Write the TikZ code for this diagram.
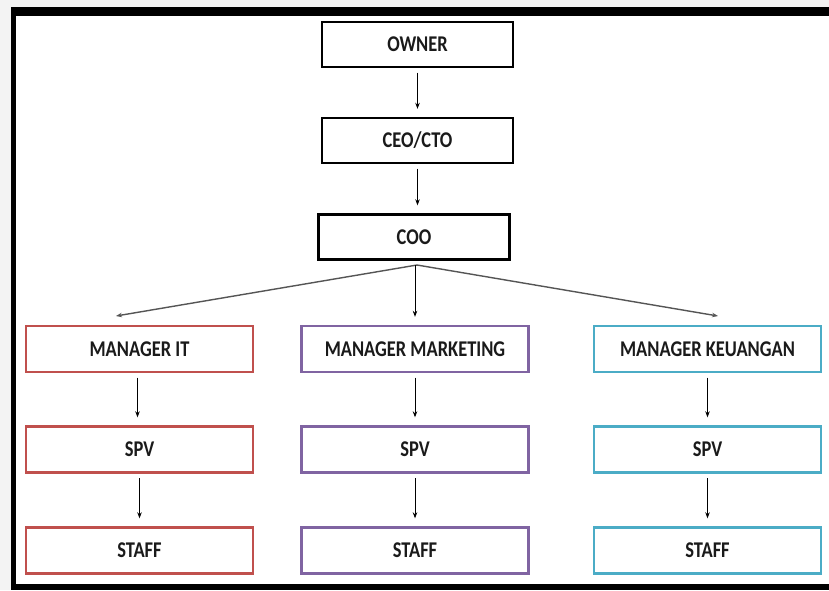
\documentclass[tikz,border=0pt]{standalone}
\usepackage{fontspec}
\setmainfont{Carlito}
\newfontfamily\boxfont[FakeStretch=0.82]{Carlito}
\usetikzlibrary{arrows.meta,positioning}
\definecolor{redbox}{HTML}{C0504D}
\definecolor{purplebox}{HTML}{8064A2}
\definecolor{cyanbox}{HTML}{4BACC6}
\definecolor{bggray}{HTML}{F3F3F3}
\definecolor{txt}{HTML}{1A1A1A}
\definecolor{spread}{HTML}{555555}
\tikzset{
  box/.style={draw=#1, line width=2.4pt, fill=white, inner sep=0pt,
    text=txt, font=\boxfont\bfseries\fontsize{22.5}{24}\selectfont},
  topbox/.style={box=black, minimum width=191pt, minimum height=45pt},
  colbox/.style={box=#1, minimum width=227pt, minimum height=46pt},
  arr/.style={-{Stealth[length=6pt,width=4.5pt]}, line width=0.8pt, black,
    shorten <=4.5pt, shorten >=8pt},
  sarr/.style={-{Stealth[length=6pt,width=4.5pt]}, line width=1.4pt, spread}
}
\begin{document}
\begin{tikzpicture}[x=1pt,y=-1pt]
\useasboundingbox (0,0) rectangle (829,590);
\fill[bggray] (0,0) rectangle (829,590);
\fill[white] (16,16) rectangle (829,584);
\fill[black] (11,7) rectangle (829,16);
\fill[black] (11,7) rectangle (16,590);
\fill[black] (11,584) rectangle (829,590);

\node[topbox] (owner) at (417.5,44.5) {OWNER};
\node[topbox] (ceo) at (417.5,140.5) {CEO/CTO};
\node[topbox] (coo) at (414,237) {COO};

\node[colbox=redbox] (mit) at (139.5,349) {MANAGER IT};
\node[colbox=purplebox] (mmk) at (415,349) {MANAGER MARKETING};
\node[colbox=cyanbox] (mku) at (707.5,349) {MANAGER KEUANGAN};

\node[colbox=redbox] (spv1) at (139.5,449.5) {SPV};
\node[colbox=purplebox] (spv2) at (415,449.5) {SPV};
\node[colbox=cyanbox] (spv3) at (707.5,449.5) {SPV};

\node[colbox=redbox] (st1) at (139.5,550.5) {STAFF};
\node[colbox=purplebox] (st2) at (415,550.5) {STAFF};
\node[colbox=cyanbox] (st3) at (707.5,550.5) {STAFF};

\draw[arr] (owner.south) -- (ceo.north);
\draw[arr] (ceo.south) -- (coo.north -| ceo.south);

\coordinate (apex) at (417,265);
\coordinate (lt) at (116,316);
\coordinate (rt) at (718,316);
\draw[sarr] (apex) -- (lt);
\draw[sarr] (apex) -- (rt);
\draw[arr] (coo.south -| mmk.north) coordinate (mtop) (mtop) -- (mmk.north);

\draw[arr] ([xshift=-2pt]mit.south) -- ([xshift=-2pt]spv1.north);
\draw[arr] (mmk.south) -- (spv2.north);
\draw[arr] (mku.south) -- (spv3.north);
\draw[arr] (spv1.south) -- (st1.north);
\draw[arr] (spv2.south) -- (st2.north);
\draw[arr] (spv3.south) -- (st3.north);
\end{tikzpicture}
\end{document}
